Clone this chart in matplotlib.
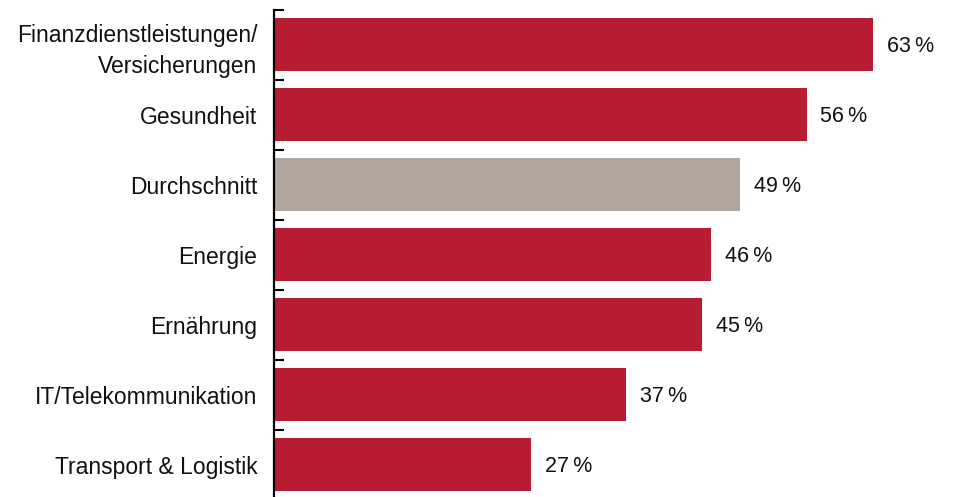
import matplotlib
matplotlib.use("Agg")
import matplotlib.pyplot as plt
import numpy as np

categories = [
    "Finanzdienstleistungen/\nVersicherungen",
    "Gesundheit",
    "Durchschnitt",
    "Energie",
    "Ernährung",
    "IT/Telekommunikation",
    "Transport & Logistik",
]
values = [63, 56, 49, 46, 45, 37, 27]
highlight = "Durchschnitt"

RED = "#B71C32"
GREY = "#B0A69D"

plt.rcParams["font.family"] = ["Liberation Sans", "DejaVu Sans"]

W, H = 956, 497
fig = plt.figure(figsize=(W / 100, H / 100), dpi=100)
left_px, top_px, bottom_px = 274, 9.5, 499.5
ax = fig.add_axes([left_px / W, 1 - bottom_px / H,
                   (939.7 - left_px) / W, (bottom_px - top_px) / H])

y = np.arange(len(categories))
colors = [GREY if c == highlight else RED for c in categories]
ax.barh(y, values, height=0.757, color=colors, zorder=2)

for yi, v in zip(y, values):
    ax.text(v + 1.45, yi + 0.03, f"{v}\u2009%", va="center", ha="left",
            fontsize=15.5, color="#111111")

ax.set_xlim(0, 70)
ax.set_ylim(len(categories) - 0.5, -0.5)

ax.set_yticks(y)
ax.set_yticklabels(categories, fontsize=16.5, color="#111111", linespacing=1.45)
ax.tick_params(axis="y", which="major", length=0, pad=12)
ax.set_yticks(np.arange(len(categories) + 1) - 0.5, minor=True)
ax.tick_params(axis="y", which="minor", direction="in", length=7, width=1.5,
               color="black")
for lbl in ax.get_yticklabels():
    lbl.set_horizontalalignment("right")
    lbl.set_multialignment("right")

ax.set_xticks([])
for side in ["top", "right", "bottom"]:
    ax.spines[side].set_visible(False)
ax.spines["left"].set_linewidth(1.6)
ax.spines["left"].set_color("black")

fig.savefig("out.png", dpi=100)
